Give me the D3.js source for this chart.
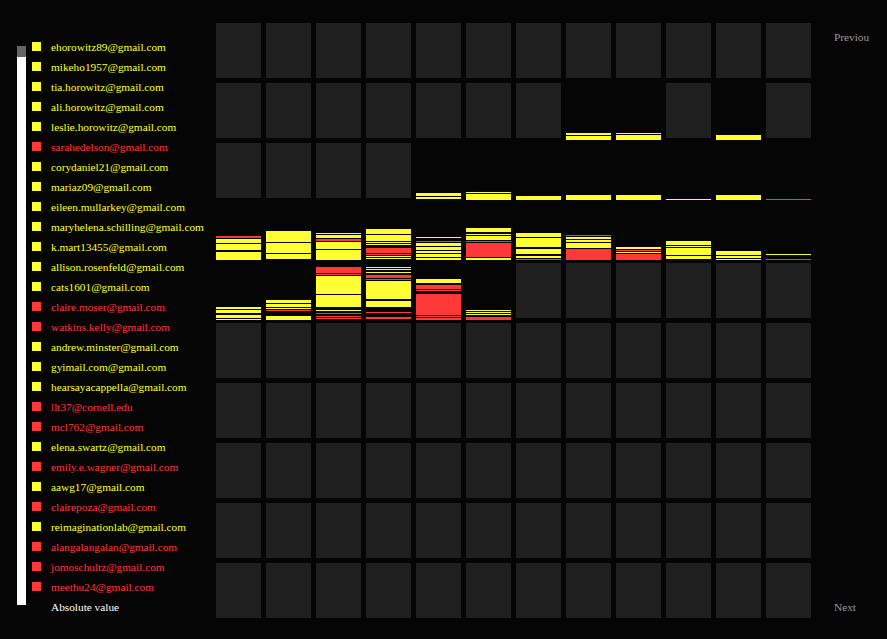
<!DOCTYPE html>
<html><head><meta charset="utf-8">
<script src="https://cdn.jsdelivr.net/npm/d3@7"></script>
<style>html,body{margin:0;padding:0;background:#050505;overflow:hidden}</style>
</head><body><svg id="c" width="887" height="639"></svg>
<script>
// ---- data ----
const emails = [
  "ehorowitz89@gmail.com","mikeho1957@gmail.com","tia.horowitz@gmail.com","ali.horowitz@gmail.com",
  "leslie.horowitz@gmail.com","sarahedelson@gmail.com","corydaniel21@gmail.com","mariaz09@gmail.com",
  "eileen.mullarkey@gmail.com","maryhelena.schilling@gmail.com","k.mart13455@gmail.com","allison.rosenfeld@gmail.com",
  "cats1601@gmail.com","claire.moser@gmail.com","watkins.kelly@gmail.com","andrew.minster@gmail.com",
  "gyimail.com@gmail.com","hearsayacappella@gmail.com","llt37@cornell.edu","mcl762@gmail.com",
  "elena.swartz@gmail.com","emily.e.wagner@gmail.com","aawg17@gmail.com","clairepoza@gmail.com",
  "reimaginationlab@gmail.com","alangalangalan@gmail.com","jomoschultz@gmail.com","meethu24@gmail.com"
];
const emailGroup = [
  "y","y","y","y","y","r","y","y","y","y","y","y","y","r",
  "r","y","y","y","r","r","y","r","y","r","y","r","r","r"
];
const gridRows = d3.range(10);
const gridCols = d3.range(12);
// period index (row*12+col) of the periods with activity
const activePeriods = [19,20,22, 28,29,30,31,32,33,34,35,
  36,37,38,39,40,41,42,43,44,45,46,47, 48,49,50,51,52,53];
// stacked segments, bottom to top: y=yellow group, r=red group, -n = empty gap
const periodStacks = [
  "y4 -1 y2", "y5 -1 y1", "y5",
  "-1 y2 -1 y3", "y6 -1 y1", "y4", "y5", "y5", "y1", "y5", "r1",
  "y8 -2 y6 -1 y4 -1 r2",
  "-1 y5 -1 y10 -1 y11",
  "y10 -1 y7 -1 r2 -1 y3 -1 y1",
  "-1 y1 -1 y1 -1 r1 -1 r5 -3 y1 -1 y1 -1 y6 -1 y5",
  "y2 -1 y3 -1 y2 -1 y3 -1 y3 -1 r1 -3 y1",
  "y2 -1 r14 -1 r1 -1 y4 -1 y1 -2 y4",
  "r1 -1 y2 -2 y5 -2 y9 -1 y4",
  "r11 -1 y5 -1 y2 -1 y2 -1 r1",
  "r6 -1 y1 -1 r1 -1 y2",
  "-1 y3 -1 y7 -1 y1 -1 y4",
  "y1 -1 y2 -1 y4",
  "r1 -4 y1",
  "y1 -1 y3 -2 y3 -1 y2",
  "y4 -5 r1 -1 y1 -1 y3 -1 y3",
  "-1 r1 -1 r1 -2 r1 -2 y1 -3 y12 -1 y18 -1 r1 -1 r6",
  "-1 r2 -4 r1 -5 y6 -2 y18 -1 r1 -1 r3 -2 y1 -2 y1 -1 y1",
  "r2 -1 r1 -1 r21 -3 r1 -1 r4 -2 y4",
  "r3 -2 y1 -1 y1 -1 y1"
];
const navLabels = ["Previou", "Next"];
const scaleLabel = "Absolute value";

// ---- drawing ----
const groupColor = {y: "#ffff33", r: "#ff3838"};
const FONT = "Liberation Serif, DejaVu Serif, serif";
const FS = 11.3;
const svg = d3.select("#c");
svg.append("rect").attr("width", 887).attr("height", 639).attr("fill", "#050505");

const x = d3.scaleBand().domain(gridCols).range([216, 811]).paddingInner(0.1);
const y = d3.scaleBand().domain(gridRows).range([23, 618]).paddingInner(5/60);
const h = d3.scaleLinear().domain([0, 55]).range([0, 55]);

const activeSet = new Set(activePeriods);
const cells = d3.range(gridRows.length * gridCols.length).map(i => ({i, r: Math.floor(i / 12), c: i % 12}));
svg.append("g").selectAll("rect").data(cells).join("rect")
  .attr("x", d => x(d.c)).attr("y", d => y(d.r))
  .attr("width", x.bandwidth()).attr("height", y.bandwidth())
  .attr("fill", d => activeSet.has(d.i) ? "#050505" : "#1f1f1f")
  .attr("shape-rendering", "crispEdges");

const segs = [];
activePeriods.forEach((p, k) => {
  const r = Math.floor(p / 12), c = p % 12;
  let acc = 0;
  periodStacks[k].split(" ").forEach(t => {
    if (t[0] === "-") { acc += +t.slice(1); return; }
    const v = +t.slice(1);
    segs.push({r, c, g: t[0], v0: acc, v1: acc + v});
    acc += v;
  });
});
svg.append("g").selectAll("rect").data(segs).join("rect")
  .attr("x", d => x(d.c)).attr("width", x.bandwidth())
  .attr("y", d => y(d.r) + y.bandwidth() + 2 - h(d.v1))
  .attr("height", d => h(d.v1) - h(d.v0))
  .attr("fill", d => groupColor[d.g])
  .attr("shape-rendering", "crispEdges");

// slider bar
svg.append("rect").attr("x", 17).attr("y", 46).attr("width", 9).attr("height", 11).attr("fill", "#666");
svg.append("rect").attr("x", 17).attr("y", 57).attr("width", 9).attr("height", 548).attr("fill", "#fff");

// legend
const ly = d3.scalePoint().domain(d3.range(emails.length)).range([46.5, 586.5]);
const lg = svg.append("g").selectAll("g").data(emails).join("g")
  .attr("transform", (d, i) => `translate(0,${ly(i)})`);
lg.append("rect").attr("x", 32).attr("y", -4.5).attr("width", 9).attr("height", 9)
  .attr("fill", (d, i) => groupColor[emailGroup[i]]);
lg.append("text").attr("x", 51).attr("y", 4.2)
  .attr("font-family", FONT).attr("font-size", FS)
  .attr("fill", (d, i) => groupColor[emailGroup[i]]).text(d => d);

svg.append("text").attr("x", 51).attr("y", 610.7)
  .attr("font-family", FONT).attr("font-size", FS)
  .attr("fill", "#fff").text(scaleLabel);

svg.append("text").attr("x", 834).attr("y", 40.7)
  .attr("font-family", FONT).attr("font-size", FS)
  .attr("fill", "#9a9a9a").text(navLabels[0]);
svg.append("text").attr("x", 834).attr("y", 610.7)
  .attr("font-family", FONT).attr("font-size", FS)
  .attr("fill", "#9a9a9a").text(navLabels[1]);
</script>
</body></html>
